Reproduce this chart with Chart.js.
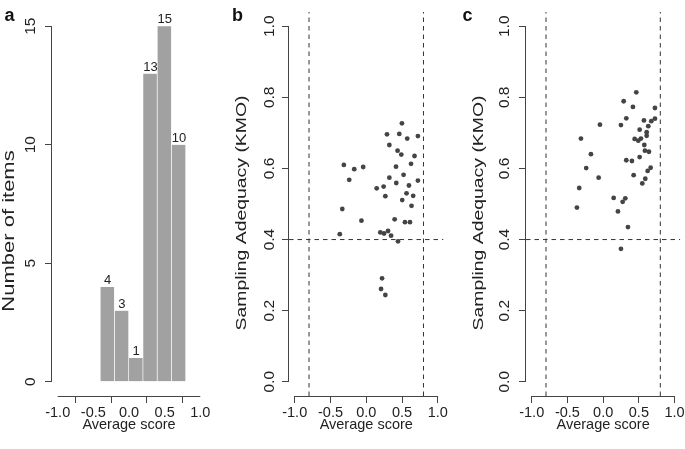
<!DOCTYPE html>
<html>
<head>
<meta charset="utf-8">
<script src="https://cdn.jsdelivr.net/npm/chart.js@4.4.1/dist/chart.umd.min.js"></script>
<style>
html, body { margin:0; padding:0; background:#fff; width:685px; height:449px; overflow:hidden; position:relative; }
canvas { position:absolute; top:0; }
.lab { position:absolute; top:5.5px; font:bold 18px "Liberation Sans", Arial, sans-serif; line-height:18px; color:#111; }
</style>
</head>
<body>
<canvas id="ca" width="228" height="449" style="left:0px"></canvas>
<canvas id="cb" width="228" height="449" style="left:228px"></canvas>
<canvas id="cc" width="240" height="449" style="left:456px"></canvas>
<div class="lab" style="left:4.5px">a</div>
<div class="lab" style="left:232px">b</div>
<div class="lab" style="left:462.5px">c</div>
<script>
// ---------------- data ----------------
const histBinCenters = [-0.3, -0.1, 0.1, 0.3, 0.5, 0.7];
const histCounts = [4, 3, 1, 13, 15, 10];

const xTickValues = [-1, -0.5, 0, 0.5, 1];
const xTickLabels = ['-1.0', '-0.5', '0.0', '0.5', '1.0'];
const histYTickValues = [0, 5, 10, 15];
const histYTickLabels = ['0', '5', '10', '15'];
const kmoYTickValues = [0, 0.2, 0.4, 0.6, 0.8, 1.0];
const kmoYTickLabels = ['0.0', '0.2', '0.4', '0.6', '0.8', '1.0'];

const cutoffScores = [-0.8, 0.8];
const cutoffKmo = 0.4;

// panel b
const scoreB = [0.29, 0.462, 0.573, 0.722, 0.323, 0.438, 0.490, 0.675, -0.313, -0.168,
                -0.043, 0.416, 0.626, -0.238, 0.323, 0.522, 0.420, 0.597, 0.722, 0.146,
                0.243, 0.267, 0.563, 0.656, 0.503, -0.335, 0.633, -0.067, 0.397, 0.541,
                0.611, -0.370, 0.197, 0.249, 0.305, 0.347, 0.444, 0.221, 0.207, 0.267,
                0.499];
const kmoB   = [0.696, 0.697, 0.684, 0.691, 0.666, 0.650, 0.639, 0.635, 0.610, 0.598,
                0.604, 0.605, 0.613, 0.568, 0.574, 0.582, 0.559, 0.552, 0.566, 0.544,
                0.549, 0.522, 0.530, 0.523, 0.511, 0.486, 0.495, 0.453, 0.457, 0.449,
                0.449, 0.415, 0.420, 0.417, 0.424, 0.411, 0.395, 0.291, 0.261, 0.244,
                0.727];
// panel c
const scoreC = [0.464, 0.287, 0.417, 0.725, 0.324, 0.571, 0.674, 0.725, -0.045, 0.249,
                0.632, 0.511, 0.609, 0.609, 0.529, 0.441, 0.492, -0.311, 0.576, 0.585,
                0.641, -0.171, 0.511, 0.324, 0.403, -0.237, 0.665, 0.623, 0.427, -0.063,
                0.590, 0.548, -0.335, 0.147, 0.310, 0.273, -0.367, 0.207, 0.347, 0.249];
const kmoC   = [0.814, 0.789, 0.773, 0.770, 0.741, 0.735, 0.733, 0.740, 0.723, 0.722,
                0.719, 0.709, 0.702, 0.692, 0.684, 0.683, 0.678, 0.684, 0.666, 0.650,
                0.647, 0.640, 0.632, 0.623, 0.621, 0.601, 0.602, 0.593, 0.581, 0.574,
                0.571, 0.558, 0.545, 0.517, 0.516, 0.506, 0.490, 0.479, 0.435, 0.374];

// ---------------- style ----------------
const FONT = '"Liberation Sans", Arial, sans-serif';
const textColor = '#222';
const axisColor = '#444';
Chart.defaults.font.family = FONT;
Chart.defaults.color = textColor;
Chart.defaults.animation = false;
Chart.defaults.plugins.legend.display = false;
Chart.defaults.plugins.tooltip.enabled = false;

// R-style axis line (first to last tick) and R-style rotated y-axis title
const rAxisLines = {
  id: 'rAxisLines',
  afterDraw(chart, args, opts) {
    const {ctx, chartArea} = chart;
    const xs = chart.scales.x, ys = chart.scales.y;
    ctx.save();
    ctx.strokeStyle = axisColor;
    ctx.lineWidth = 1;
    ctx.beginPath();
    const yb = Math.round(chartArea.bottom) + 0.5;
    ctx.moveTo(xs.getPixelForValue(xs.ticks[0].value), yb);
    ctx.lineTo(xs.getPixelForValue(xs.ticks[xs.ticks.length - 1].value), yb);
    const xl = Math.round(chartArea.left) - 0.5;
    ctx.moveTo(xl, ys.getPixelForValue(ys.ticks[0].value));
    ctx.lineTo(xl, ys.getPixelForValue(ys.ticks[ys.ticks.length - 1].value));
    ctx.stroke();
    if (opts && opts.title) {
      ctx.translate(opts.x, opts.y);
      ctx.rotate(-Math.PI / 2);
      ctx.scale(1, opts.squeeze);
      ctx.font = opts.size + 'px ' + FONT;
      ctx.fillStyle = textColor;
      ctx.textAlign = 'center';
      ctx.textBaseline = 'middle';
      ctx.fillText(opts.title, 0, 0);
    }
    ctx.restore();
  }
};

const barLabels = {
  id: 'barLabels',
  afterDatasetsDraw(chart) {
    const meta = chart.getDatasetMeta(0);
    const ctx = chart.ctx;
    ctx.save();
    ctx.font = '13px ' + FONT;
    ctx.fillStyle = textColor;
    ctx.textAlign = 'center';
    ctx.textBaseline = 'alphabetic';
    meta.data.forEach((el, i) => ctx.fillText(String(histCounts[i]), el.x, el.y - 3));
    ctx.restore();
  }
};

function makeScales(p) {
  return {
    x: {
      type: 'linear', min: -1.08, max: 1.08, offset: false,
      afterBuildTicks: s => { s.ticks = xTickValues.map(v => ({value: v})); },
      afterFit: s => { s.height = 40; s.paddingLeft = 0; s.paddingRight = 0; },
      grid: { drawOnChartArea: false, drawTicks: true, tickLength: 7, color: axisColor, lineWidth: 1 },
      border: { display: false },
      ticks: { autoSkip: false, maxRotation: 0, minRotation: 0, padding: 1,
               font: { size: 14.5 }, color: textColor, callback: (v, i) => xTickLabels[i] },
      title: { display: true, text: 'Average score', font: { size: 14.5 }, color: textColor,
               padding: { top: 0, bottom: 2.2 } }
    },
    y: {
      type: 'linear', min: p.yMin, max: p.yMax,
      afterBuildTicks: s => { s.ticks = p.yTicks.map(v => ({value: v})); },
      afterFit: s => { s.width = p.areaLeft; s.paddingTop = 0; s.paddingBottom = 0; },
      grid: { drawOnChartArea: false, drawTicks: true, tickLength: 7, color: axisColor, lineWidth: 1 },
      border: { display: false },
      ticks: { autoSkip: false, minRotation: 90, maxRotation: 90, crossAlign: 'center',
               padding: p.yTickPad, font: { size: 15.5 }, color: textColor,
               callback: (v, i) => p.yLabels[i] },
      title: { display: false }
    }
  };
}

// ---------------- panel a: histogram ----------------
new Chart(document.getElementById('ca'), {
  type: 'bar',
  data: {
    datasets: [{
      data: histBinCenters.map((x, i) => ({ x: x, y: histCounts[i] })),
      backgroundColor: '#a1a1a1',
      borderColor: '#ffffff',
      borderWidth: { left: 0, right: 1, top: 0, bottom: 0 },
      borderSkipped: false,
      barPercentage: 1,
      categoryPercentage: 1
    }]
  },
  options: {
    responsive: false,
    layout: { padding: { left: 0, right: 22, top: 12, bottom: 13 } },
    scales: makeScales({
      yMin: -0.6, yMax: 15.6, yTicks: histYTickValues, yLabels: histYTickLabels,
      areaLeft: 52, yTickPad: 5.9
    }),
    plugins: { rAxisLines: { title: 'Number of items', x: 9, y: 231, size: 22, squeeze: 0.76 } }
  },
  plugins: [rAxisLines, barLabels]
});

// ---------------- panels b, c: scatter ----------------
function scatterChart(id, scores, kmo, geo) {
  const dashStyle = { showLine: true, borderColor: '#333', borderWidth: 1, borderDash: [4.5, 4],
                      pointRadius: 0, fill: false };
  new Chart(document.getElementById(id), {
    type: 'scatter',
    data: {
      datasets: [
        { data: scores.map((x, i) => ({ x: x, y: kmo[i] })),
          pointRadius: 2.4, pointBackgroundColor: '#444', pointBorderWidth: 0 },
        Object.assign({ data: [{ x: cutoffScores[0], y: -0.04 }, { x: cutoffScores[0], y: 1.04 }] }, dashStyle),
        Object.assign({ data: [{ x: cutoffScores[1], y: -0.04 }, { x: cutoffScores[1], y: 1.04 }] }, dashStyle),
        Object.assign({ data: [{ x: -1.08, y: cutoffKmo }, { x: 1.08, y: cutoffKmo }] }, dashStyle)
      ]
    },
    options: {
      responsive: false,
      layout: { padding: { left: 0, right: geo.padRight, top: 12, bottom: 13 } },
      scales: makeScales({
        yMin: -0.04, yMax: 1.04, yTicks: kmoYTickValues, yLabels: kmoYTickLabels,
        areaLeft: geo.areaLeft, yTickPad: geo.yTickPad
      }),
      plugins: { rAxisLines: { title: 'Sampling Adequacy (KMO)', x: geo.yTitleX, y: 213, size: 19.4, squeeze: 0.76 } }
    },
    plugins: [rAxisLines]
  });
}

scatterChart('cb', scoreB, kmoB, { areaLeft: 61, padRight: 12.5, yTickPad: 1.2, yTitleX: 13.5 });
scatterChart('cc', scoreC, kmoC, { areaLeft: 70, padRight: 15.7, yTickPad: 3.2, yTitleX: 22.5 });
</script>
</body>
</html>
